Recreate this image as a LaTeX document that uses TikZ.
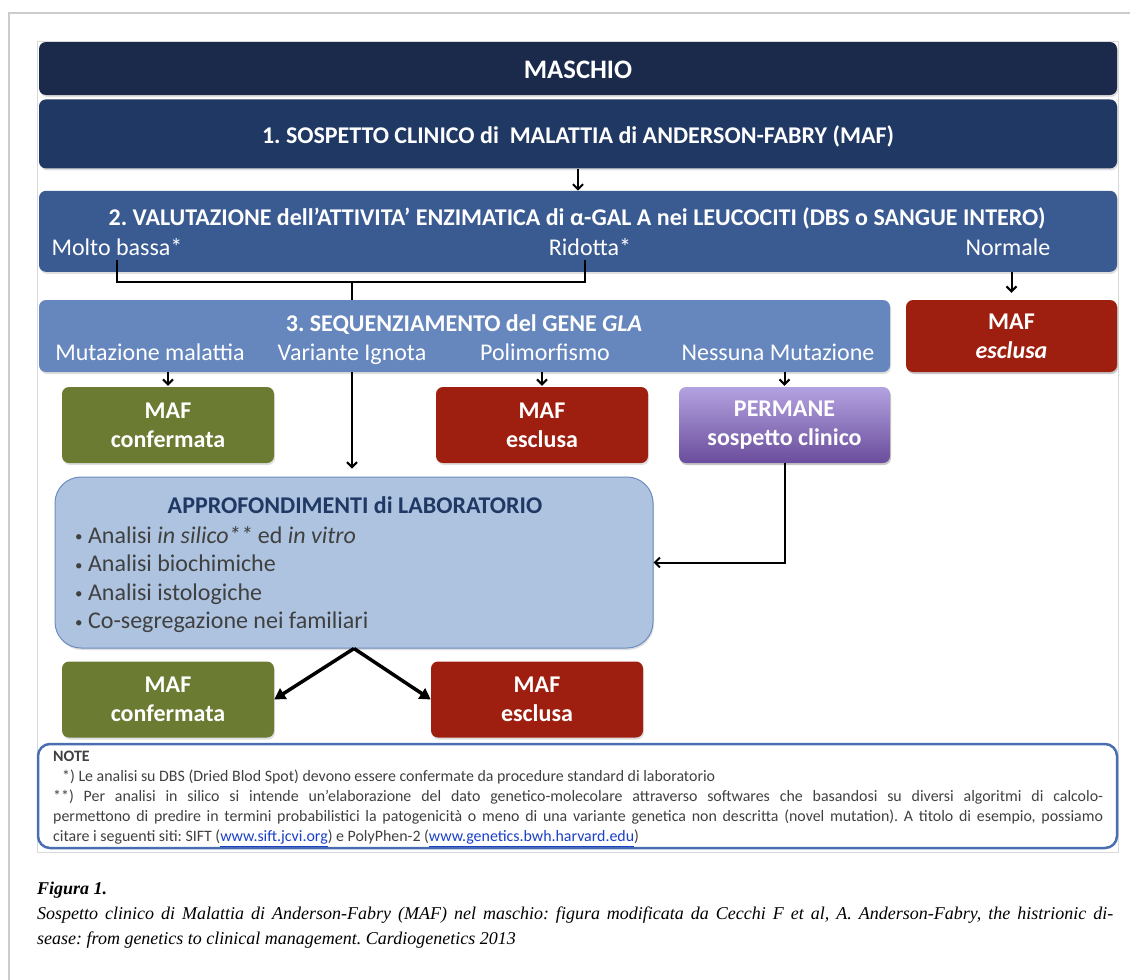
\documentclass[tikz,border=0pt]{standalone}
\usepackage{fontspec}
\setmainfont{Carlito}
\newfontfamily\captionfont{Liberation Serif}
\usepackage{xcolor}
\usepackage{tikz}
\usetikzlibrary{positioning,arrows.meta,shadows}

\definecolor{navyA}{HTML}{1B2A4A}
\definecolor{navyB}{HTML}{203864}
\definecolor{steelC}{HTML}{3A5A92}
\definecolor{steelD}{HTML}{6686BE}
\definecolor{mafred}{HTML}{9E1F10}
\definecolor{mafgreen}{HTML}{6B7B32}
\definecolor{permtop}{HTML}{B3A2E0}
\definecolor{permbot}{HTML}{6A4D9C}
\definecolor{labfill}{HTML}{ADC3E0}
\definecolor{labdraw}{HTML}{6E8CC0}
\definecolor{labtitle}{HTML}{1F3864}
\definecolor{notedraw}{HTML}{4A6FB0}
\definecolor{notetext}{HTML}{404040}
\definecolor{linkblue}{HTML}{1A3FC8}

\newcommand{\labdot}{{\fontsize{15}{15}\selectfont\raisebox{1.5pt}{•}}\ }
\frenchspacing

\tikzset{
  band/.style={
    rounded corners=7pt,
    minimum width={#1},
    inner sep=0pt,
    text=white,
    drop shadow={shadow xshift=1pt, shadow yshift=-2pt, opacity=.25},
  },
  band/.default=1078pt,
  mafbox/.style={
    band=212pt,
    minimum height=76pt,
    align=center,
    font=\fontsize{24}{29}\selectfont\bfseries,
  },
  headline/.style={
    anchor=base,
    text=white,
    font=\fontsize{24}{28}\selectfont\bfseries,
  },
  branch/.style={
    anchor=base,
    text=white,
    inner sep=2pt,
    font=\fontsize{24}{28}\selectfont,
  },
  flow/.style={
    -{Straight Barb[length=5pt,width=10pt]},
    line width=2pt,
  },
  fat flow/.style={
    -{Triangle[length=11pt,width=12pt]},
    line width=3.5pt,
  },
}

\begin{document}
\begin{tikzpicture}[x=1pt,y=-1pt]
  \useasboundingbox (0,0) rectangle (1130,980);
  \draw[gray!40, line width=1.5pt] (9,980) -- (9,13) -- (1130,13);
  \draw[gray!30, line width=0.8pt] (37,41) rectangle (1118,852);

  % top bands
  \node[band, fill=navyA, minimum height=53pt] (maschio) at (578,68.5) {};
  \node[headline, font=\fontsize{26.7}{30}\selectfont\bfseries] (maschiotxt) at (578,78) {MASCHIO};
  \node[band, fill=navyB, minimum height=69pt, below=4pt of maschio] (sospetto) {};
  \node[headline] (sospettotxt) at (578,143) {1. SOSPETTO CLINICO di\ \ MALATTIA di ANDERSON-FABRY (MAF)};
  \node[band, fill=steelC, minimum height=81pt, below=22pt of sospetto] (valutaz) {};
  \node[headline] (valutaztxt) at (577,225) {2. VALUTAZIONE dell’ATTIVITA’ ENZIMATICA di α-GAL A nei LEUCOCITI (DBS o SANGUE INTERO)};
  \node[branch] (molto) at (117,255) {Molto bassa*};
  \node[branch] (ridotta) at (590,255) {Ridotta*};
  \node[branch] (normale) at (1008,255) {Normale};

  % sequencing
  \node[band=851pt, fill=steelD, minimum height=72pt] (sequenz) at (464.5,336) {};
  \node[headline] (sequenztxt) at (464,331) {3. SEQUENZIAMENTO del GENE \textit{GLA}};
  \node[branch] (mutaz) at (150,360) {Mutazione malattia};
  \node[branch] (variante) at (352,360) {Variante Ignota};
  \node[branch] (polimorf) at (545,360) {Polimorfismo};
  \node[branch] (nessuna) at (778,360) {Nessuna Mutazione};
  \node[mafbox, band=211pt, minimum height=72pt, fill=mafred] (esclusaA) at (1011.5,336) {MAF\\\textit{esclusa}};

  % outcomes
  \node[mafbox, fill=mafgreen] (confA) at (168,425) {MAF\\confermata};
  \node[mafbox, fill=mafred] (esclusaB) at (542,425) {MAF\\esclusa};
  \node[mafbox, band=211pt, top color=permtop, bottom color=permbot] (permane) at (784.5,425) {PERMANE\\sospetto clinico};

  % laboratory
  \node[band=598pt, rounded corners=26pt, minimum height=171pt, fill=labfill, draw=labdraw, line width=1pt] (approf) at (354,562.5) {};
  \node[headline, text=labtitle] (approftxt) at (355,513) {APPROFONDIMENTI di LABORATORIO};
  \node[anchor=north west, text=notetext, align=left, inner sep=0pt,
        font=\fontsize{24}{28.5}\selectfont] (approflist) at (75,526) {%
    \labdot Analisi \textit{in silico**} ed \textit{in vitro}\\
    \labdot Analisi biochimiche\\
    \labdot Analisi istologiche\\
    \labdot Co-segregazione nei familiari};
  \node[mafbox, fill=mafgreen] (confB) at (168,699.5) {MAF\\confermata};
  \node[mafbox, fill=mafred] (esclusaC) at (537,699.5) {MAF\\esclusa};

  % connectors
  \draw[flow] (sospetto) -- (valutaz);
  \coordinate (join) at (352,282);
  \draw[line width=2.5pt] ([yshift=-3pt]molto.south) |- (join) -| ([yshift=-3pt]ridotta.south -| 585,0);
  \draw[line width=2.5pt] (join) -- (join |- sequenz.north);
  \draw[flow] (esclusaA.north |- valutaz.south) -- ([yshift=7pt]esclusaA.north);
  \draw[flow] (confA.north |- sequenz.south) -- ([yshift=1pt]confA.north);
  \draw[flow] (esclusaB.north |- sequenz.south) -- ([yshift=1pt]esclusaB.north);
  \draw[flow] (permane.north |- sequenz.south) -- ([yshift=1pt]permane.north);
  \draw[flow] (variante.south |- sequenz.south) -- ([yshift=8pt]variante.south |- approf.north);
  \draw[flow] (permane.south) |- (approf.east);
  \draw[fat flow] (approf.south) -- (confB.east);
  \draw[fat flow] (approf.south) -- (esclusaC.west);

  % notes
  \node[draw=notedraw, line width=2.5pt, rounded corners=12pt, fill=white,
        minimum width=1079pt, minimum height=104pt] (note) at (577.5,796) {};
  \node[anchor=north west, text=notetext, text width=1050pt, align=justify, inner sep=0pt,
        font=\fontsize{15.9}{20}\selectfont] (notetxt) at (53,751) {%
    \textbf{NOTE}\\
    \hspace*{9pt}*) Le analisi su DBS (Dried Blod Spot) devono essere confermate da procedure standard di laboratorio\\
    \relax**) Per analisi in silico si intende un’elaborazione del dato genetico-molecolare attraverso softwares che basandosi su diversi algoritmi di calcolo-\linebreak
    permettono di predire in termini probabilistici la patogenicità o meno di una variante genetica non descritta (novel mutation). A titolo di esempio, possiamo\linebreak
    citare i seguenti siti: SIFT (\textcolor{linkblue}{\underline{www.sift.jcvi.org}}) e PolyPhen-2 (\textcolor{linkblue}{\underline{www.genetics.bwh.harvard.edu}})};

  % caption
  \node[anchor=north west, text width=1076pt, align=justify, inner sep=0pt,
        font=\captionfont\itshape\fontsize{18}{25}\selectfont] (caption) at (37,882) {%
    {\bfseries Figura 1.}\\
    Sospetto clinico di Malattia di Anderson-Fabry (MAF) nel maschio: figura modificata da Cecchi F et al, A. Anderson-Fabry, the histrionic di-\linebreak
    sease: from genetics to clinical management. Cardiogenetics 2013};
\end{tikzpicture}
\end{document}
